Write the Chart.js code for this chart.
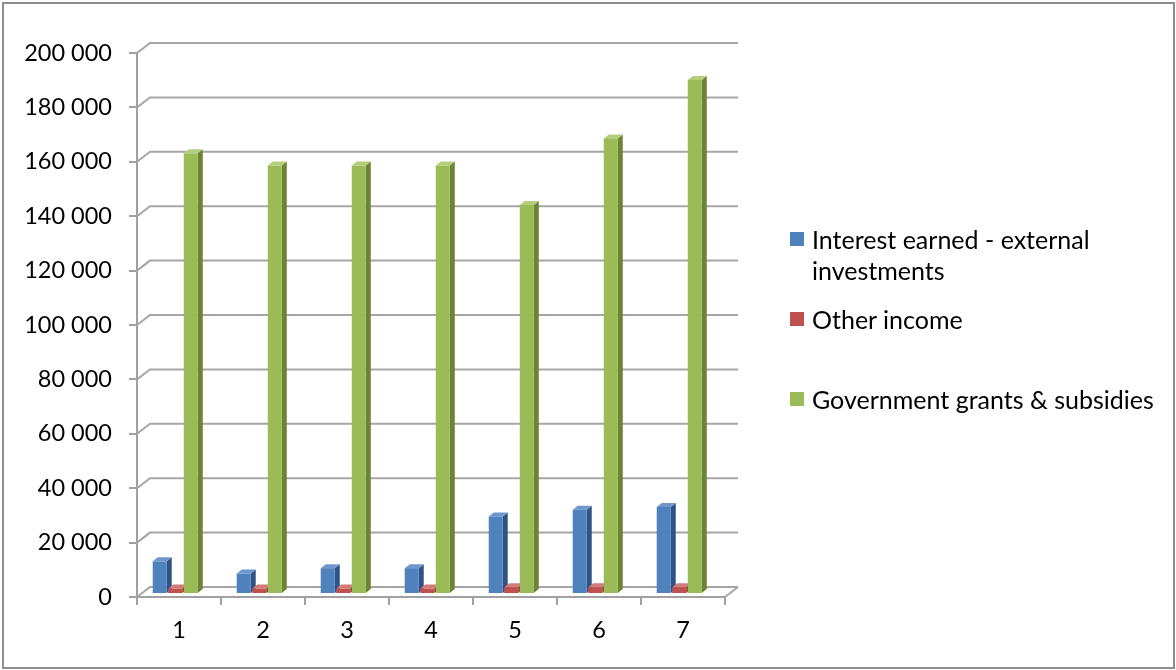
<!DOCTYPE html>
<html>
<head>
<meta charset="utf-8">
<script src="https://cdn.jsdelivr.net/npm/chart.js@4/dist/chart.umd.min.js"></script>
<style>
  html, body { margin: 0; padding: 0; background: #fff; }
  body { width: 1176px; height: 670px; position: relative; overflow: hidden; font-family: Lato, "Open Sans", sans-serif; }
  #frame { position: absolute; left: 2px; top: 2px; width: 1173px; height: 667px; border: 2px solid #8e8e8e; box-sizing: border-box; }
  #c { position: absolute; left: 0; top: 0; }
  #legend { position: absolute; left: 790px; top: 0; font-size: 25px; color: #000; }
  .item { position: absolute; left: 0; width: 380px; }
  .sw { position: absolute; left: 0; width: 14px; height: 14px; }
  .tx { position: absolute; left: 22px; width: 355px; line-height: 31px; }
</style>
</head>
<body>
<div id="frame"></div>
<canvas id="c" width="1176" height="670"></canvas>
<div id="legend"></div>
<script>
const categories = ["1", "2", "3", "4", "5", "6", "7"];
const seriesNames = ["Interest earned - external investments", "Other income", "Government grants & subsidies"];
const interestEarned = [12000, 7500, 9500, 9500, 28500, 31000, 32000];
const otherIncome = [2000, 2000, 2000, 2000, 2500, 2500, 2500];
const governmentGrants = [162000, 157500, 157500, 157500, 143000, 167500, 189000];
const yTicks = [0, 20000, 40000, 60000, 80000, 100000, 120000, 140000, 160000, 180000, 200000];
const frontColors = ["#4F81BD", "#C0504D", "#9BBB59"];
const sideColors = ["#2E5485", "#8A3230", "#6B8535"];
const topColors = ["#6E98CC", "#D47A77", "#B3CF7C"];

const fmt = v => String(v).replace(/\B(?=(\d{3})+(?!\d))/g, " ");

const seriesData = [interestEarned, otherIncome, governmentGrants];
const datasets = seriesData.map((d, i) => ({
  label: seriesNames[i],
  data: d,
  backgroundColor: 'rgba(0,0,0,0)',
  borderWidth: 0,
  categoryPercentage: 0.554,
  barPercentage: 1.0
}));

const WALL_DX = 13, WALL_DY = 10;   // 3-D back wall offset
const BAR_DX = 5, BAR_DY = 4;       // 3-D bar depth
const BAR_LIFT = 3;                 // bars stand slightly behind the front edge

const threeD = {
  id: 'threeD',
  beforeDatasetsDraw(chart) {
    const { ctx, chartArea: { left, right, bottom }, scales: { y } } = chart;
    ctx.save();
    ctx.strokeStyle = '#a6a6a6';
    ctx.lineWidth = 2;
    yTicks.forEach(v => {
      const py = y.getPixelForValue(v);
      ctx.beginPath();
      ctx.moveTo(left, py);
      ctx.lineTo(left + WALL_DX, py - WALL_DY);
      ctx.lineTo(right + WALL_DX, py - WALL_DY);
      ctx.stroke();
    });
    ctx.beginPath();
    ctx.moveTo(right, bottom);
    ctx.lineTo(right + WALL_DX, bottom - WALL_DY);
    ctx.stroke();
    ctx.restore();
  },
  afterDatasetsDraw(chart) {
    const ctx = chart.ctx;
    const metas = chart.data.datasets.map((_, i) => chart.getDatasetMeta(i));
    const n = chart.data.labels.length;
    ctx.save();
    for (let j = 0; j < n; j++) {
      for (let i = 0; i < metas.length; i++) {
        const el = metas[i].data[j];
        const w = el.width;
        const x0 = el.x - w / 2 - 3;
        const x1 = x0 + w - 1.5;
        const yt = el.y - BAR_LIFT;
        const yb = el.base - BAR_LIFT;
        // side face
        ctx.fillStyle = sideColors[i];
        ctx.beginPath();
        ctx.moveTo(x1, yb); ctx.lineTo(x1, yt);
        ctx.lineTo(x1 + BAR_DX, yt - BAR_DY); ctx.lineTo(x1 + BAR_DX, yb - BAR_DY);
        ctx.closePath(); ctx.fill();
        // top face
        ctx.fillStyle = topColors[i];
        ctx.beginPath();
        ctx.moveTo(x0, yt); ctx.lineTo(x1, yt);
        ctx.lineTo(x1 + BAR_DX, yt - BAR_DY); ctx.lineTo(x0 + BAR_DX, yt - BAR_DY);
        ctx.closePath(); ctx.fill();
        // front face
        ctx.fillStyle = frontColors[i];
        ctx.fillRect(x0, yt, x1 - x0, yb - yt);
      }
    }
    ctx.restore();
  }
};

new Chart(document.getElementById('c'), {
  type: 'bar',
  data: { labels: categories, datasets },
  plugins: [threeD],
  options: {
    responsive: false,
    animation: false,
    devicePixelRatio: 1,
    layout: { padding: { top: 53, right: 451, bottom: 23, left: 0 } },
    plugins: { legend: { display: false }, tooltip: { enabled: false } },
    scales: {
      x: {
        grid: { display: true, drawOnChartArea: false, offset: true, color: '#a0a0a0', lineWidth: 2, tickLength: 8 },
        border: { color: '#a0a0a0', width: 2 },
        ticks: { color: '#000', font: { family: 'Lato', size: 23.5 }, padding: 11 },
        afterFit: s => { s.height = 50; }
      },
      y: {
        min: 0, max: 200000,
        afterBuildTicks: s => { s.ticks = yTicks.map(v => ({ value: v })); },
        grid: { drawOnChartArea: false, color: '#a0a0a0', lineWidth: 2, tickLength: 8 },
        border: { color: '#a0a0a0', width: 2 },
        ticks: { color: '#000', font: { family: 'Lato', size: 23.5 }, padding: 17, callback: v => fmt(v) },
        afterFit: s => { s.width = 137; }
      }
    }
  }
});

const legend = document.getElementById('legend');
const tops = [224, 304, 384];
seriesNames.forEach((n, i) => {
  const it = document.createElement('div');
  it.className = 'item';
  it.style.top = tops[i] + 'px';
  it.innerHTML = '<div class="sw" style="top:8px;background:' + frontColors[i] + '"></div><div class="tx"></div>';
  it.querySelector('.tx').textContent = n;
  legend.appendChild(it);
});
</script>
</body>
</html>
